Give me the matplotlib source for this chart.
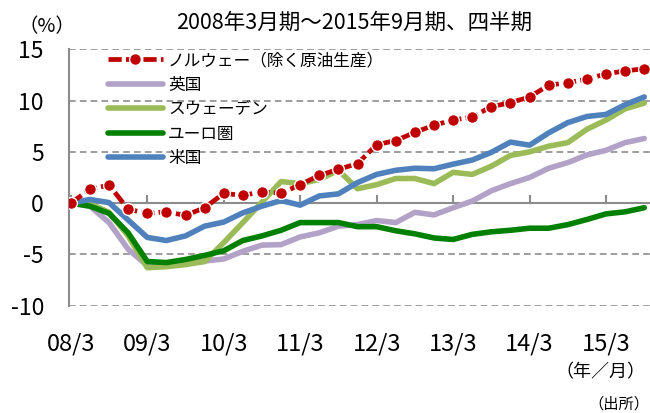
import matplotlib
matplotlib.use("Agg")
import matplotlib.pyplot as plt

plt.rcParams['font.family'] = ['Noto Sans CJK JP', 'DejaVu Sans']

# quarterly, 2008/3 .. 2015/9 (31 points)
ticklabels = ["08/3", "09/3", "10/3", "11/3", "12/3", "13/3", "14/3", "15/3"]
norway = [0, 1.35, 1.75, -0.6, -1.0, -0.85, -1.2, -0.45, 0.95, 0.75,
          1.1, 0.95, 1.8, 2.7, 3.3, 3.85, 5.7, 6.1, 6.9, 7.6,
          8.1, 8.4, 9.4, 9.8, 10.35, 11.5, 11.75, 12.1, 12.6, 12.9, 13.1]
uk = [0, -0.3, -1.9, -4.5, -6.1, -6.1, -5.9, -5.65, -5.45, -4.7,
      -4.1, -4.05, -3.3, -2.9, -2.25, -2.1, -1.7, -1.9, -0.9, -1.15,
      -0.45, 0.2, 1.2, 1.9, 2.5, 3.4, 3.95, 4.7, 5.15, 5.9, 6.3]
sweden = [0, -0.05, -0.9, -3.2, -6.3, -6.2, -6.0, -5.7, -3.85, -1.9,
          0.1, 2.1, 1.9, 2.3, 3.2, 1.4, 1.8, 2.4, 2.4, 1.9,
          3.0, 2.8, 3.6, 4.65, 5.0, 5.55, 5.9, 7.2, 8.1, 9.2, 9.75]
euro = [0, -0.3, -1.0, -2.9, -5.7, -5.8, -5.5, -5.1, -4.65, -3.65,
        -3.2, -2.65, -1.9, -1.9, -1.9, -2.3, -2.3, -2.7, -3.0, -3.4,
        -3.55, -3.05, -2.8, -2.65, -2.45, -2.45, -2.1, -1.6, -1.05, -0.85, -0.45]
us = [0, 0.35, 0.05, -1.65, -3.35, -3.65, -3.2, -2.25, -1.85, -0.95,
      -0.3, 0.25, -0.2, 0.7, 0.9, 2.0, 2.8, 3.2, 3.4, 3.35,
      3.8, 4.2, 4.95, 5.95, 5.65, 6.85, 7.85, 8.45, 8.65, 9.6, 10.35]

x = list(range(len(norway)))

fig = plt.figure(figsize=(6.5, 4.13), dpi=100)
ax = fig.add_axes([0.106, 0.26, 0.894, 0.6206])

lw = 4
ax.plot(x, uk, color='#B3A2C7', lw=lw, zorder=2, label='英国', solid_capstyle='round')
ax.plot(x, sweden, color='#9BBB59', lw=lw, zorder=3, label='スウェーデン', solid_capstyle='round')
ax.plot(x, euro, color='#008000', lw=lw, zorder=4, label='ユーロ圏', solid_capstyle='round')
ax.plot(x, us, color='#4F81BD', lw=lw, zorder=5, label='米国', solid_capstyle='round')
ax.plot(x, norway, color='#C00000', lw=3.4, dashes=(2.8, 0.9), marker='o', ms=8.5,
        mfc='#C00000', mec='white', mew=1.0, zorder=6, label='ノルウェー（除く原油生産）')

ax.set_xlim(-0.1, 30.3)
ax.set_ylim(-10, 15)
ax.set_yticks([-10, -5, 0, 5, 10, 15])
ax.set_yticklabels(['-10', '-5', '0', '5', '10', '15'])
ax.set_xticks(range(0, 31, 4))
ax.set_xticklabels(ticklabels)
ax.tick_params(axis='x', length=0, pad=19, labelsize=17)
ax.tick_params(axis='y', length=0, pad=18, labelsize=16.5)

for v in [-10, -5, 5, 10, 15]:
    ax.axhline(v, color='#8C8C8C', lw=1.2, ls=(0, (4, 2.5)), zorder=1)

for s in ['top', 'right', 'bottom']:
    ax.spines[s].set_visible(False)
ax.spines['left'].set_color('#8C8C8C')
ax.spines['left'].set_linewidth(1.5)

# x axis line at zero with inward ticks
sec = ax.secondary_xaxis(0.4)
sec.set_xticks(range(0, 31, 4))
sec.tick_params(direction='in', length=6, width=1.5, color='#8C8C8C', labelbottom=False)
sec.spines['bottom'].set_color('#8C8C8C')
sec.spines['bottom'].set_linewidth(1.5)

h, l = ax.get_legend_handles_labels()
order = [4, 0, 1, 2, 3]
ax.legend([h[i] for i in order], [l[i] for i in order], loc='upper left',
          bbox_to_anchor=(0.166, 0.874), bbox_transform=fig.transFigure,
          frameon=False, fontsize=12, handlelength=3.3, handletextpad=0.3,
          labelspacing=0.45, borderpad=0, borderaxespad=0)

fig.text(0.545, 0.945, '2008年3月期～2015年9月期、四半期', ha='center', va='center', fontsize=15.5)
fig.text(0.072, 0.935, '（%）', ha='center', va='center', fontsize=14)
fig.text(0.923, 0.099, '（年／月）', ha='center', va='center', fontsize=13)
fig.text(0.999, 0.002, '（出所）', ha='right', va='bottom', fontsize=11)

fig.savefig('out.png', dpi=100)
